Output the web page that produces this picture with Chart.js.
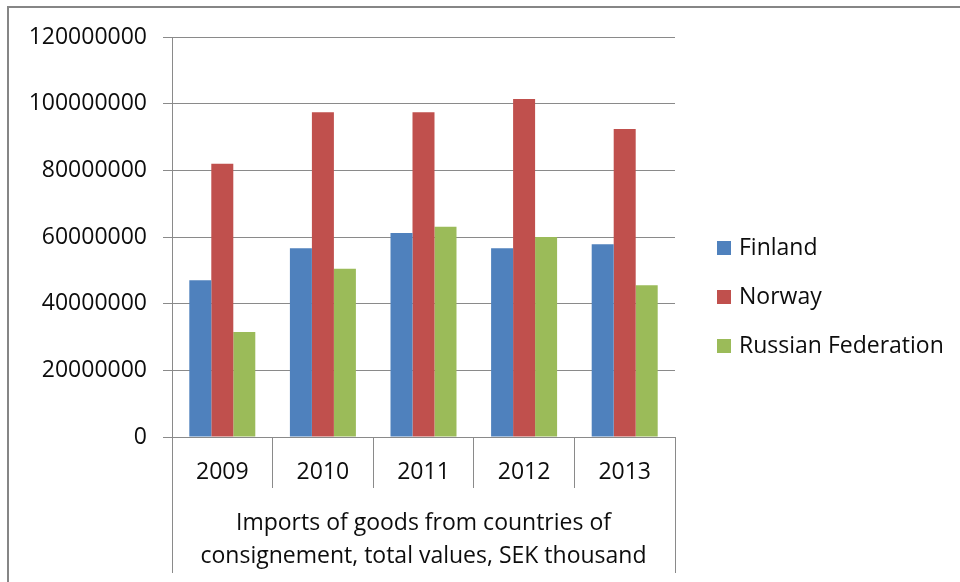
<!DOCTYPE html>
<html>
<head>
<meta charset="utf-8">
<script src="https://cdn.jsdelivr.net/npm/chart.js@4/dist/chart.umd.min.js"></script>
<style>
  html, body { margin: 0; padding: 0; background: #fff; }
  #wrap { position: relative; width: 960px; height: 582px; }
</style>
</head>
<body>
<div id="wrap"><canvas id="chart" width="960" height="582"></canvas></div>
<script>
"use strict";

var years = ['2009', '2010', '2011', '2012', '2013'];
var finland = [47000000, 56600000, 61200000, 56600000, 57800000];
var norway = [82000000, 97400000, 97400000, 101400000, 92400000];
var russia = [31500000, 50500000, 63100000, 60000000, 45500000];
var yTicks = [0, 20000000, 40000000, 60000000, 80000000, 100000000, 120000000];
var axisTitle = ['Imports of goods from countries of', 'consignement, total values, SEK thousand'];

var FONT = '"Open Sans", sans-serif';
var SIZE = 23;
var TEXT = '#0d0d0d';
var LINE = '#8a8a8a';

// frame round the whole chart, white background
var framePlugin = {
    id: 'frame',
    beforeDraw: function(chart) {
        var ctx = chart.ctx;
        ctx.save();
        ctx.fillStyle = '#fff';
        ctx.fillRect(0, 0, chart.width, chart.height);
        ctx.strokeStyle = '#868686';
        ctx.lineWidth = 2;
        ctx.strokeRect(8, 7, chart.width + 40, chart.height + 40);
        ctx.restore();
    },
    afterDraw: function(chart) {
        // outer borders of the category block reach down past the title
        var ctx = chart.ctx;
        var area = chart.chartArea;
        ctx.save();
        ctx.strokeStyle = LINE;
        ctx.lineWidth = 1;
        ctx.beginPath();
        [area.left, area.right].forEach(function(x) {
            var px = Math.round(x) + 0.5;
            ctx.moveTo(px, area.bottom);
            ctx.lineTo(px, area.bottom + 136);
        });
        ctx.stroke();
        ctx.restore();
    }
};

// legend on the right, one row per dataset
var legendPlugin = {
    id: 'sideLegend',
    afterDraw: function(chart) {
        var ctx = chart.ctx;
        var x = chart.chartArea.right + 42;
        var y = 248;
        ctx.save();
        ctx.font = SIZE + 'px ' + FONT;
        ctx.textBaseline = 'middle';
        ctx.textAlign = 'left';
        chart.data.datasets.forEach(function(ds, i) {
            var cy = y + i * 49;
            ctx.fillStyle = ds.backgroundColor;
            ctx.fillRect(x, cy - 7, 14, 14);
            ctx.fillStyle = TEXT;
            ctx.fillText(ds.label, x + 22, cy);
        });
        ctx.restore();
    }
};

new Chart(document.getElementById('chart'), {
    type: 'bar',
    data: {
        labels: years,
        datasets: [
            { label: 'Finland', data: finland, backgroundColor: '#4F81BD' },
            { label: 'Norway', data: norway, backgroundColor: '#C0504D' },
            { label: 'Russian Federation', data: russia, backgroundColor: '#9BBB59' }
        ]
    },
    options: {
        responsive: false,
        animation: false,
        devicePixelRatio: 1,
        layout: { padding: { left: 0, top: 37, right: 285, bottom: 0 } },
        datasets: { bar: { categoryPercentage: 0.656, barPercentage: 1 } },
        plugins: {
            legend: { display: false },
            tooltip: { enabled: false }
        },
        scales: {
            x: {
                grid: { display: true, drawOnChartArea: false, drawTicks: true, tickLength: 51, color: LINE, offset: true },
                border: { display: true, color: LINE },
                ticks: { color: TEXT, font: { family: FONT, size: SIZE }, padding: -29, maxRotation: 0 },
                title: {
                    display: true,
                    text: axisTitle,
                    color: TEXT,
                    font: { family: FONT, size: SIZE, lineHeight: 1.45 },
                    padding: { top: 0, bottom: 9 }
                },
                afterFit: function(scale) { scale.height = 145; }
            },
            y: {
                min: 0,
                max: 120000000,
                afterBuildTicks: function(scale) {
                    scale.ticks = yTicks.map(function(v) { return { value: v }; });
                },
                grid: { color: LINE, tickLength: 9 },
                border: { display: true, color: LINE },
                ticks: {
                    color: TEXT,
                    font: { family: FONT, size: SIZE },
                    padding: 16,
                    callback: function(v) { return String(v); }
                },
                afterFit: function(scale) { scale.width = 172; }
            }
        }
    },
    plugins: [framePlugin, legendPlugin]
});
</script>
</body>
</html>
